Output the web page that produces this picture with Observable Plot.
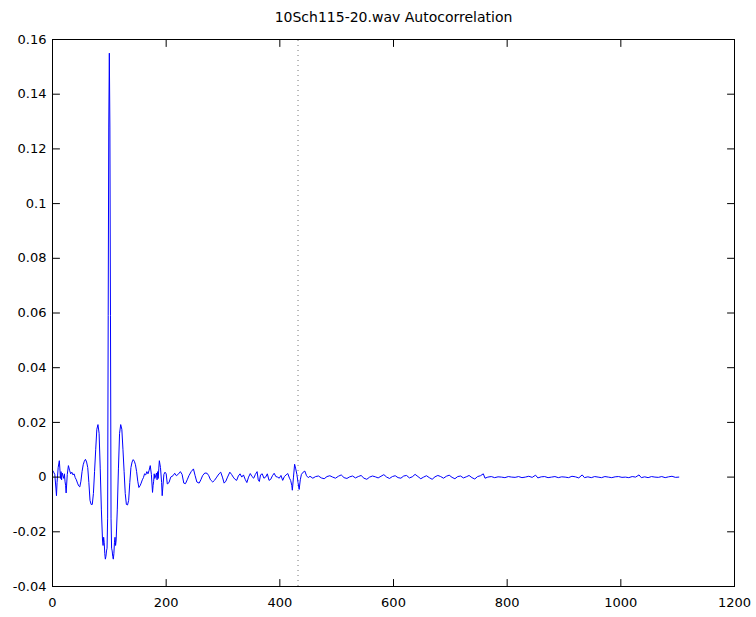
<!DOCTYPE html>
<html>
<head>
<meta charset="utf-8">
<script src="https://cdn.jsdelivr.net/npm/d3@7"></script>
<script src="https://cdn.jsdelivr.net/npm/@observablehq/plot@0.6"></script>
<style>
  html, body { margin: 0; padding: 0; background: #fff; }
</style>
</head>
<body>
<div id="chart"></div>
<script>
const title = "10Sch115-20.wav Autocorrelation";
const xTicks = [0, 200, 400, 600, 800, 1000, 1200];
const yTicks = [-0.04, -0.02, 0, 0.02, 0.04, 0.06, 0.08, 0.1, 0.12, 0.14, 0.16];
const markerLag = 432;

// lag (samples)
const lags = [
  0,2,4,6,7,8,10,12,13,14,15,16,17,18,20,21,22,23,24,26,28,30,32,34,36,38,40,42,44,46,48,50,
  52,54,56,58,60,62,64,66,68,70,72,74,76,78,80,82,84,86,88,89,90,91,92,93,94,95,96,97,98,99,100,
  101,102,103,104,105,106,107,108,109,110,111,112,114,116,118,120,122,124,126,128,130,132,134,136,
  138,140,142,144,146,148,150,152,154,156,158,160,162,164,166,168,170,172,174,176,177,178,179,180,
  182,183,184,185,186,187,188,190,192,193,194,196,198,200,
  202,205,208,212,215,218,222,225,228,231,234,237,240,244,248,251,254,258,261,264,268,272,275,278,
  282,285,289,293,296,299,302,305,308,312,315,318,321,324,327,330,333,336,339,342,345,348,351,354,
  357,360,362,364,366,369,372,375,378,381,384,387,390,393,396,399,402,405,408,411,414,417,419,421,
  422,424,426,428,430,432,434,436,438,441,444,447,450,
  453,458,463,468,473,478,483,488,493,498,503,508,513,518,523,528,533,538,543,548,553,558,563,568,
  573,578,583,588,593,598,603,608,613,618,623,628,633,638,643,648,653,658,663,668,673,678,683,688,
  693,698,703,708,713,718,723,728,733,738,743,748,753,758,761,766,772,778,784,790,796,802,808,814,
  820,826,832,838,844,850,854,860,866,872,878,884,890,896,902,908,914,920,926,932,936,942,948,954,
  960,966,972,978,984,990,996,1002,1008,1014,1020,1026,1032,1036,1042,1048,1054,1060,1066,1072,
  1078,1084,1090,1096,1102
];

// autocorrelation value at each lag
const acf = [
  0.0025,0.0018,0.0010,-0.0040,-0.0068,-0.0020,0.0035,0.0060,0.0030,-0.0005,0.0020,-0.0010,0.0015,0.0008,-0.0005,0.0012,-0.0015,-0.0030,-0.0058,0.0010,0.0042,0.0025,0.0012,0.0018,0.0008,0.0012,-0.0002,-0.0010,-0.0022,-0.0032,-0.0036,-0.0015,
  0.0020,0.0045,0.0058,0.0065,0.0055,0.0035,-0.0020,-0.0085,-0.0100,-0.0100,-0.0060,0.0020,0.0100,0.0175,0.0192,0.0160,0.0030,-0.0120,-0.0230,-0.0250,-0.0220,-0.0240,-0.0280,-0.0300,-0.0290,-0.0270,-0.0260,-0.0150,0.0590,0.1280,0.1550,
  0.1280,0.0590,-0.0150,-0.0260,-0.0270,-0.0290,-0.0300,-0.0280,-0.0240,-0.0220,-0.0250,-0.0230,-0.0120,0.0030,0.0160,0.0192,0.0175,0.0100,0.0020,-0.0060,-0.0100,-0.0102,-0.0085,-0.0020,
  0.0035,0.0055,0.0064,0.0058,0.0045,0.0020,-0.0015,-0.0038,-0.0032,-0.0022,-0.0010,-0.0002,0.0012,0.0008,0.0020,0.0012,0.0025,0.0042,0.0010,-0.0056,-0.0030,-0.0015,0.0012,-0.0005,
  0.0008,0.0015,-0.0010,0.0020,-0.0005,0.0030,0.0060,0.0035,-0.0020,-0.0068,-0.0040,0.0010,0.0018,0.0012,
  -0.0025,-0.0020,0.0000,0.0005,0.0014,0.0005,0.0012,0.0020,0.0010,-0.0022,-0.0024,-0.0010,0.0005,0.0020,0.0030,0.0005,-0.0018,-0.0022,-0.0010,0.0005,0.0015,0.0014,0.0005,-0.0010,
  -0.0018,-0.0012,0.0000,0.0012,0.0018,0.0000,-0.0022,-0.0015,0.0000,0.0018,0.0010,0.0000,-0.0008,-0.0012,0.0004,0.0012,0.0000,0.0008,-0.0008,-0.0020,0.0000,0.0013,0.0002,-0.0004,
  0.0010,0.0020,-0.0010,-0.0016,0.0008,0.0012,-0.0004,0.0000,0.0012,-0.0012,-0.0008,0.0005,0.0014,0.0002,0.0000,-0.0004,0.0006,-0.0012,0.0002,0.0008,0.0013,-0.0004,-0.0012,-0.0030,
  -0.0048,0.0000,0.0047,0.0030,0.0010,-0.0020,-0.0045,-0.0010,0.0010,0.0018,0.0022,0.0005,-0.0002,
  0.0003,-0.0004,0.0002,0.0004,-0.0003,-0.0006,0.0002,0.0005,0.0000,-0.0004,0.0003,0.0008,-0.0002,-0.0005,0.0001,0.0004,-0.0003,0.0002,0.0006,-0.0004,-0.0008,0.0000,0.0004,0.0001,
  -0.0003,0.0003,0.0009,0.0000,-0.0005,0.0002,0.0005,-0.0002,-0.0004,0.0004,0.0006,-0.0003,0.0001,0.0010,0.0002,-0.0006,0.0000,0.0005,-0.0002,-0.0008,0.0001,0.0006,0.0002,-0.0004,
  0.0003,0.0007,-0.0001,-0.0006,0.0002,0.0004,-0.0003,0.0001,0.0006,-0.0002,-0.0007,0.0002,0.0005,0.0012,-0.0004,0.0000,0.0002,-0.0002,0.0001,0.0000,-0.0002,0.0002,0.0000,-0.0001,
  0.0002,-0.0002,0.0000,0.0003,-0.0001,0.0007,-0.0003,0.0001,0.0002,-0.0002,0.0000,0.0002,-0.0002,0.0001,0.0000,-0.0002,0.0003,0.0001,-0.0003,0.0008,-0.0002,0.0001,-0.0002,0.0002,
  0.0000,-0.0002,0.0002,0.0000,-0.0002,0.0001,0.0002,-0.0001,0.0000,-0.0002,0.0002,0.0000,0.0008,-0.0002,0.0001,-0.0002,0.0002,0.0000,-0.0001,0.0002,
  -0.0002,0.0001,0.0003,-0.0001,0.0000
];

const table = lags.map((x, i) => ({x, y: acf[i]}));

const tickShape = {
  draw(context, l) { context.moveTo(0, 0); context.lineTo(0, -l); }
};
const fmt = d => String(Math.round(d * 100) / 100);

const chart = Plot.plot({
  width: 756,
  height: 617,
  marginLeft: 52,
  marginRight: 22,
  marginTop: 39,
  marginBottom: 31,
  style: {fontFamily: "'DejaVu Sans', sans-serif", fontSize: "13px", color: "black", background: "white"},
  x: {domain: [0, 1200]},
  y: {domain: [-0.04, 0.16]},
  marks: [
    Plot.ruleX([markerLag], {y1: -0.04, y2: 0.16, stroke: "#777", strokeWidth: 1, strokeDasharray: "1,4"}),
    Plot.line(table, {x: "x", y: "y", stroke: "#0000ff", strokeWidth: 1}),
    Plot.frame({stroke: "black", strokeWidth: 1}),
    Plot.vector(xTicks, {x: d => d, frameAnchor: "bottom", rotate: 0, length: 7, anchor: "start", shape: tickShape, stroke: "black", strokeWidth: 1}),
    Plot.vector(xTicks, {x: d => d, frameAnchor: "top", rotate: 180, length: 7, anchor: "start", shape: tickShape, stroke: "black", strokeWidth: 1}),
    Plot.vector(yTicks, {y: d => d, frameAnchor: "left", rotate: 90, length: 7, anchor: "start", shape: tickShape, stroke: "black", strokeWidth: 1}),
    Plot.vector(yTicks, {y: d => d, frameAnchor: "right", rotate: -90, length: 7, anchor: "start", shape: tickShape, stroke: "black", strokeWidth: 1}),
    Plot.axisX({ticks: xTicks, tickSize: 0, tickPadding: 11, tickFormat: fmt, label: null}),
    Plot.axisY({ticks: yTicks, tickSize: 0, tickPadding: 6, tickFormat: fmt, label: null}),
    Plot.text([title], {frameAnchor: "top", lineAnchor: "middle", dy: -22, fontSize: 14, fill: "black"})
  ]
});
document.getElementById("chart").appendChild(chart);
</script>
</body>
</html>
